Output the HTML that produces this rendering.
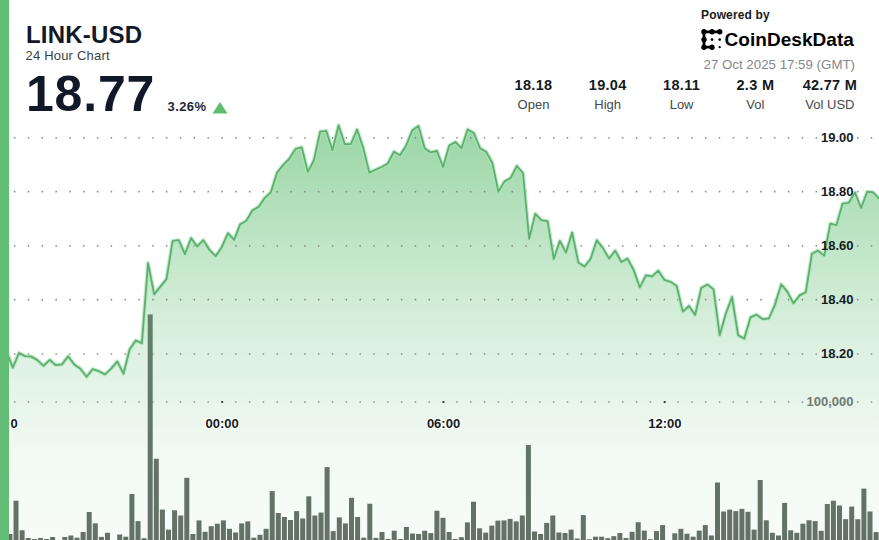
<!DOCTYPE html>
<html><head><meta charset="utf-8">
<style>
html,body{margin:0;padding:0;}
body{width:879px;height:540px;overflow:hidden;position:relative;background:#fff;font-family:"Liberation Sans",sans-serif;color:#111827;}
.abs{position:absolute;white-space:nowrap;line-height:1;}
#bar{position:absolute;left:0;top:0;width:9px;height:540px;background:#64bd75;}
svg{position:absolute;left:0;top:0;}
.ylab{font-family:"Liberation Sans",sans-serif;font-weight:700;font-size:13px;fill:#161c24;}
.xlab{font-family:"Liberation Sans",sans-serif;font-weight:700;font-size:13px;fill:#161c24;}
.stat{position:absolute;top:78.3px;width:74px;text-align:center;line-height:1;}
.stat .v{font-weight:700;font-size:14.5px;letter-spacing:0.3px;color:#141a22;display:block;height:16px;}
.stat .l{font-size:13px;color:#43474d;display:block;margin-top:4.2px;}
</style></head><body>
<svg width="879" height="540" viewBox="0 0 879 540">
<defs>
<linearGradient id="g" x1="0" y1="124" x2="0" y2="540" gradientUnits="userSpaceOnUse">
<stop offset="0" stop-color="#5cbd6e" stop-opacity="0.63"/>
<stop offset="0.375" stop-color="#5cbd6e" stop-opacity="0.32"/>
<stop offset="0.553" stop-color="#5cbd6e" stop-opacity="0.2"/>
<stop offset="0.8" stop-color="#5cbd6e" stop-opacity="0.08"/>
<stop offset="1" stop-color="#5cbd6e" stop-opacity="0.05"/>
</linearGradient>
</defs>
<g fill="#646d66"><rect x="1.30" y="536.00" width="5.0" height="9.00"/><rect x="7.40" y="534.00" width="5.0" height="11.00"/><rect x="13.50" y="500.70" width="5.0" height="44.30"/><rect x="19.60" y="530.30" width="5.0" height="14.70"/><rect x="25.70" y="538.00" width="5.0" height="7.00"/><rect x="31.80" y="539.00" width="5.0" height="6.00"/><rect x="37.90" y="538.00" width="5.0" height="7.00"/><rect x="44.00" y="539.00" width="5.0" height="6.00"/><rect x="50.10" y="537.00" width="5.0" height="8.00"/><rect x="56.20" y="540.00" width="5.0" height="5.00"/><rect x="62.30" y="537.00" width="5.0" height="8.00"/><rect x="68.40" y="535.50" width="5.0" height="9.50"/><rect x="74.50" y="537.70" width="5.0" height="7.30"/><rect x="80.60" y="532.00" width="5.0" height="13.00"/><rect x="86.70" y="512.00" width="5.0" height="33.00"/><rect x="92.80" y="523.30" width="5.0" height="21.70"/><rect x="98.90" y="536.90" width="5.0" height="8.10"/><rect x="105.00" y="532.80" width="5.0" height="12.20"/><rect x="111.10" y="540.00" width="5.0" height="5.00"/><rect x="117.20" y="534.50" width="5.0" height="10.50"/><rect x="123.30" y="536.70" width="5.0" height="8.30"/><rect x="129.40" y="494.00" width="5.0" height="51.00"/><rect x="135.50" y="521.10" width="5.0" height="23.90"/><rect x="141.60" y="538.20" width="5.0" height="6.80"/><rect x="147.70" y="314.40" width="5.0" height="230.60"/><rect x="153.80" y="458.75" width="5.0" height="86.25"/><rect x="159.90" y="509.60" width="5.0" height="35.40"/><rect x="166.00" y="529.60" width="5.0" height="15.40"/><rect x="172.10" y="510.30" width="5.0" height="34.70"/><rect x="178.20" y="515.50" width="5.0" height="29.50"/><rect x="184.30" y="477.80" width="5.0" height="67.20"/><rect x="190.40" y="534.00" width="5.0" height="11.00"/><rect x="196.50" y="520.40" width="5.0" height="24.60"/><rect x="202.60" y="531.80" width="5.0" height="13.20"/><rect x="208.70" y="526.20" width="5.0" height="18.80"/><rect x="214.80" y="523.70" width="5.0" height="21.30"/><rect x="220.90" y="520.40" width="5.0" height="24.60"/><rect x="227.00" y="528.80" width="5.0" height="16.20"/><rect x="233.10" y="532.50" width="5.0" height="12.50"/><rect x="239.20" y="523.40" width="5.0" height="21.60"/><rect x="245.30" y="521.40" width="5.0" height="23.60"/><rect x="251.40" y="537.70" width="5.0" height="7.30"/><rect x="257.50" y="534.80" width="5.0" height="10.20"/><rect x="263.60" y="528.80" width="5.0" height="16.20"/><rect x="269.70" y="491.10" width="5.0" height="53.90"/><rect x="275.80" y="513.00" width="5.0" height="32.00"/><rect x="281.90" y="517.00" width="5.0" height="28.00"/><rect x="288.00" y="520.00" width="5.0" height="25.00"/><rect x="294.10" y="511.10" width="5.0" height="33.90"/><rect x="300.20" y="518.50" width="5.0" height="26.50"/><rect x="306.30" y="496.30" width="5.0" height="48.70"/><rect x="312.40" y="515.50" width="5.0" height="29.50"/><rect x="318.50" y="512.60" width="5.0" height="32.40"/><rect x="324.60" y="467.10" width="5.0" height="77.90"/><rect x="330.70" y="531.10" width="5.0" height="13.90"/><rect x="336.80" y="517.40" width="5.0" height="27.60"/><rect x="342.90" y="523.40" width="5.0" height="21.60"/><rect x="349.00" y="497.80" width="5.0" height="47.20"/><rect x="355.10" y="517.00" width="5.0" height="28.00"/><rect x="361.20" y="537.70" width="5.0" height="7.30"/><rect x="367.30" y="503.70" width="5.0" height="41.30"/><rect x="373.40" y="537.90" width="5.0" height="7.10"/><rect x="379.50" y="532.00" width="5.0" height="13.00"/><rect x="385.60" y="539.00" width="5.0" height="6.00"/><rect x="391.70" y="530.70" width="5.0" height="14.30"/><rect x="397.80" y="539.00" width="5.0" height="6.00"/><rect x="403.90" y="527.00" width="5.0" height="18.00"/><rect x="410.00" y="533.50" width="5.0" height="11.50"/><rect x="416.10" y="534.00" width="5.0" height="11.00"/><rect x="422.20" y="530.70" width="5.0" height="14.30"/><rect x="428.30" y="533.10" width="5.0" height="11.90"/><rect x="434.40" y="510.70" width="5.0" height="34.30"/><rect x="440.50" y="517.80" width="5.0" height="27.20"/><rect x="446.60" y="532.00" width="5.0" height="13.00"/><rect x="452.70" y="539.00" width="5.0" height="6.00"/><rect x="458.80" y="537.20" width="5.0" height="7.80"/><rect x="464.90" y="522.40" width="5.0" height="22.60"/><rect x="471.00" y="501.70" width="5.0" height="43.30"/><rect x="477.10" y="528.30" width="5.0" height="16.70"/><rect x="483.20" y="532.60" width="5.0" height="12.40"/><rect x="489.30" y="525.60" width="5.0" height="19.40"/><rect x="495.40" y="520.60" width="5.0" height="24.40"/><rect x="501.50" y="520.40" width="5.0" height="24.60"/><rect x="507.60" y="518.90" width="5.0" height="26.10"/><rect x="513.70" y="521.40" width="5.0" height="23.60"/><rect x="519.80" y="515.50" width="5.0" height="29.50"/><rect x="525.90" y="445.00" width="5.0" height="100.00"/><rect x="532.00" y="531.50" width="5.0" height="13.50"/><rect x="538.10" y="534.00" width="5.0" height="11.00"/><rect x="544.20" y="522.90" width="5.0" height="22.10"/><rect x="550.30" y="515.50" width="5.0" height="29.50"/><rect x="556.40" y="532.50" width="5.0" height="12.50"/><rect x="562.50" y="533.00" width="5.0" height="12.00"/><rect x="568.60" y="529.60" width="5.0" height="15.40"/><rect x="574.70" y="538.50" width="5.0" height="6.50"/><rect x="580.80" y="515.10" width="5.0" height="29.90"/><rect x="586.90" y="539.20" width="5.0" height="5.80"/><rect x="593.00" y="536.70" width="5.0" height="8.30"/><rect x="599.10" y="536.70" width="5.0" height="8.30"/><rect x="605.20" y="538.20" width="5.0" height="6.80"/><rect x="611.30" y="536.20" width="5.0" height="8.80"/><rect x="617.40" y="533.00" width="5.0" height="12.00"/><rect x="623.50" y="538.00" width="5.0" height="7.00"/><rect x="629.60" y="531.80" width="5.0" height="13.20"/><rect x="635.70" y="522.20" width="5.0" height="22.80"/><rect x="641.80" y="530.60" width="5.0" height="14.40"/><rect x="647.90" y="539.20" width="5.0" height="5.80"/><rect x="654.00" y="531.10" width="5.0" height="13.90"/><rect x="660.10" y="525.10" width="5.0" height="19.90"/><rect x="666.20" y="540.00" width="5.0" height="5.00"/><rect x="672.30" y="533.30" width="5.0" height="11.70"/><rect x="678.40" y="528.80" width="5.0" height="16.20"/><rect x="684.50" y="533.70" width="5.0" height="11.30"/><rect x="690.60" y="536.70" width="5.0" height="8.30"/><rect x="696.70" y="530.60" width="5.0" height="14.40"/><rect x="702.80" y="525.10" width="5.0" height="19.90"/><rect x="708.90" y="535.50" width="5.0" height="9.50"/><rect x="715.00" y="482.50" width="5.0" height="62.50"/><rect x="721.10" y="511.50" width="5.0" height="33.50"/><rect x="727.20" y="509.60" width="5.0" height="35.40"/><rect x="733.30" y="511.10" width="5.0" height="33.90"/><rect x="739.40" y="508.90" width="5.0" height="36.10"/><rect x="745.50" y="511.80" width="5.0" height="33.20"/><rect x="751.60" y="529.60" width="5.0" height="15.40"/><rect x="757.70" y="480.00" width="5.0" height="65.00"/><rect x="763.80" y="520.30" width="5.0" height="24.70"/><rect x="769.90" y="532.80" width="5.0" height="12.20"/><rect x="776.00" y="535.50" width="5.0" height="9.50"/><rect x="782.10" y="502.90" width="5.0" height="42.10"/><rect x="788.20" y="530.30" width="5.0" height="14.70"/><rect x="794.30" y="532.80" width="5.0" height="12.20"/><rect x="800.40" y="523.70" width="5.0" height="21.30"/><rect x="806.50" y="520.30" width="5.0" height="24.70"/><rect x="812.60" y="521.10" width="5.0" height="23.90"/><rect x="818.70" y="530.80" width="5.0" height="14.20"/><rect x="824.80" y="504.00" width="5.0" height="41.00"/><rect x="830.90" y="500.70" width="5.0" height="44.30"/><rect x="837.00" y="505.50" width="5.0" height="39.50"/><rect x="843.10" y="519.20" width="5.0" height="25.80"/><rect x="849.20" y="506.60" width="5.0" height="38.40"/><rect x="855.30" y="519.20" width="5.0" height="25.80"/><rect x="861.40" y="488.60" width="5.0" height="56.40"/><rect x="867.50" y="511.50" width="5.0" height="33.50"/><rect x="873.60" y="532.10" width="5.0" height="12.90"/></g>
<path d="M0.51,560 L0.51,356.60 L6.65,351.60 L12.80,367.60 L18.95,353.00 L25.09,356.10 L31.24,356.60 L37.39,360.10 L43.53,365.80 L49.68,359.90 L55.83,365.10 L61.98,364.40 L68.12,356.20 L74.27,364.40 L80.42,368.70 L86.56,376.80 L92.71,369.10 L98.86,371.20 L105.00,374.40 L111.15,368.60 L117.30,361.40 L123.45,373.70 L129.59,349.50 L135.74,340.50 L141.89,343.10 L148.03,263.10 L154.18,294.35 L160.33,286.60 L166.48,279.10 L172.62,240.90 L178.77,240.20 L184.92,254.10 L191.06,238.10 L197.21,246.40 L203.36,240.20 L209.50,249.90 L215.65,256.20 L221.80,247.10 L227.95,233.20 L234.09,239.80 L240.24,224.20 L246.39,220.70 L252.53,210.30 L258.68,206.85 L264.83,197.80 L270.97,192.10 L277.12,172.60 L283.27,164.90 L289.42,158.60 L295.56,148.90 L301.71,147.30 L307.86,171.85 L314.00,160.00 L320.15,131.60 L326.30,130.90 L332.44,150.30 L338.59,125.30 L344.74,144.10 L350.89,144.10 L357.03,129.50 L363.18,147.60 L369.33,172.60 L375.47,169.80 L381.62,167.00 L387.77,163.50 L393.91,151.70 L400.06,155.20 L406.21,145.50 L412.36,130.20 L418.50,126.00 L424.65,148.20 L430.80,152.40 L436.94,151.00 L443.09,167.00 L449.24,145.50 L455.38,142.00 L461.53,148.20 L467.68,129.50 L473.83,133.00 L479.97,148.20 L486.12,151.70 L492.27,162.80 L498.41,191.60 L504.56,181.40 L510.71,177.90 L516.85,166.00 L523.00,173.00 L529.15,238.80 L535.29,213.80 L541.44,220.10 L547.59,221.10 L553.74,258.90 L559.88,240.90 L566.03,252.60 L572.18,232.60 L578.32,262.40 L584.47,266.60 L590.62,258.90 L596.76,240.20 L602.91,248.10 L609.06,258.60 L615.21,250.60 L621.35,262.00 L627.50,258.60 L633.65,270.00 L639.79,287.40 L645.94,275.30 L652.09,276.30 L658.24,270.70 L664.38,279.80 L670.53,281.80 L676.68,286.00 L682.82,311.60 L688.97,306.00 L695.12,315.00 L701.26,288.00 L707.41,284.50 L713.56,289.35 L719.70,335.20 L725.85,313.60 L732.00,297.00 L738.15,335.20 L744.29,338.60 L750.44,317.40 L756.59,314.60 L762.73,319.20 L768.88,318.50 L775.03,304.60 L781.17,284.40 L787.32,291.60 L793.47,303.40 L799.62,295.40 L805.76,292.30 L811.91,253.80 L818.06,250.60 L824.20,255.60 L830.35,223.60 L836.50,225.10 L842.64,203.60 L848.79,202.80 L854.94,192.50 L861.09,208.00 L867.23,191.70 L873.38,192.50 L879.53,199.10 L879.53,560 Z" fill="url(#g)"/>
<g fill="#828683"><circle cx="0.88" cy="137.80" r="0.85"/><circle cx="14.70" cy="137.80" r="0.85"/><circle cx="28.52" cy="137.80" r="0.85"/><circle cx="42.34" cy="137.80" r="0.85"/><circle cx="56.16" cy="137.80" r="0.85"/><circle cx="69.98" cy="137.80" r="0.85"/><circle cx="83.80" cy="137.80" r="0.85"/><circle cx="97.62" cy="137.80" r="0.85"/><circle cx="111.44" cy="137.80" r="0.85"/><circle cx="125.26" cy="137.80" r="0.85"/><circle cx="139.08" cy="137.80" r="0.85"/><circle cx="152.90" cy="137.80" r="0.85"/><circle cx="166.72" cy="137.80" r="0.85"/><circle cx="180.54" cy="137.80" r="0.85"/><circle cx="194.36" cy="137.80" r="0.85"/><circle cx="208.18" cy="137.80" r="0.85"/><circle cx="222.00" cy="137.80" r="0.85"/><circle cx="235.82" cy="137.80" r="0.85"/><circle cx="249.64" cy="137.80" r="0.85"/><circle cx="263.46" cy="137.80" r="0.85"/><circle cx="277.28" cy="137.80" r="0.85"/><circle cx="291.10" cy="137.80" r="0.85"/><circle cx="304.92" cy="137.80" r="0.85"/><circle cx="318.74" cy="137.80" r="0.85"/><circle cx="332.56" cy="137.80" r="0.85"/><circle cx="346.38" cy="137.80" r="0.85"/><circle cx="360.20" cy="137.80" r="0.85"/><circle cx="374.02" cy="137.80" r="0.85"/><circle cx="387.84" cy="137.80" r="0.85"/><circle cx="401.66" cy="137.80" r="0.85"/><circle cx="415.48" cy="137.80" r="0.85"/><circle cx="429.30" cy="137.80" r="0.85"/><circle cx="443.12" cy="137.80" r="0.85"/><circle cx="456.94" cy="137.80" r="0.85"/><circle cx="470.76" cy="137.80" r="0.85"/><circle cx="484.58" cy="137.80" r="0.85"/><circle cx="498.40" cy="137.80" r="0.85"/><circle cx="512.22" cy="137.80" r="0.85"/><circle cx="526.04" cy="137.80" r="0.85"/><circle cx="539.86" cy="137.80" r="0.85"/><circle cx="553.68" cy="137.80" r="0.85"/><circle cx="567.50" cy="137.80" r="0.85"/><circle cx="581.32" cy="137.80" r="0.85"/><circle cx="595.14" cy="137.80" r="0.85"/><circle cx="608.96" cy="137.80" r="0.85"/><circle cx="622.78" cy="137.80" r="0.85"/><circle cx="636.60" cy="137.80" r="0.85"/><circle cx="650.42" cy="137.80" r="0.85"/><circle cx="664.24" cy="137.80" r="0.85"/><circle cx="678.06" cy="137.80" r="0.85"/><circle cx="691.88" cy="137.80" r="0.85"/><circle cx="705.70" cy="137.80" r="0.85"/><circle cx="719.52" cy="137.80" r="0.85"/><circle cx="733.34" cy="137.80" r="0.85"/><circle cx="747.16" cy="137.80" r="0.85"/><circle cx="760.98" cy="137.80" r="0.85"/><circle cx="774.80" cy="137.80" r="0.85"/><circle cx="788.62" cy="137.80" r="0.85"/><circle cx="802.44" cy="137.80" r="0.85"/><circle cx="816.26" cy="137.80" r="0.85"/><circle cx="830.08" cy="137.80" r="0.85"/><circle cx="843.90" cy="137.80" r="0.85"/><circle cx="857.72" cy="137.80" r="0.85"/><circle cx="871.54" cy="137.80" r="0.85"/><circle cx="0.88" cy="191.70" r="0.85"/><circle cx="14.70" cy="191.70" r="0.85"/><circle cx="28.52" cy="191.70" r="0.85"/><circle cx="42.34" cy="191.70" r="0.85"/><circle cx="56.16" cy="191.70" r="0.85"/><circle cx="69.98" cy="191.70" r="0.85"/><circle cx="83.80" cy="191.70" r="0.85"/><circle cx="97.62" cy="191.70" r="0.85"/><circle cx="111.44" cy="191.70" r="0.85"/><circle cx="125.26" cy="191.70" r="0.85"/><circle cx="139.08" cy="191.70" r="0.85"/><circle cx="152.90" cy="191.70" r="0.85"/><circle cx="166.72" cy="191.70" r="0.85"/><circle cx="180.54" cy="191.70" r="0.85"/><circle cx="194.36" cy="191.70" r="0.85"/><circle cx="208.18" cy="191.70" r="0.85"/><circle cx="222.00" cy="191.70" r="0.85"/><circle cx="235.82" cy="191.70" r="0.85"/><circle cx="249.64" cy="191.70" r="0.85"/><circle cx="263.46" cy="191.70" r="0.85"/><circle cx="277.28" cy="191.70" r="0.85"/><circle cx="291.10" cy="191.70" r="0.85"/><circle cx="304.92" cy="191.70" r="0.85"/><circle cx="318.74" cy="191.70" r="0.85"/><circle cx="332.56" cy="191.70" r="0.85"/><circle cx="346.38" cy="191.70" r="0.85"/><circle cx="360.20" cy="191.70" r="0.85"/><circle cx="374.02" cy="191.70" r="0.85"/><circle cx="387.84" cy="191.70" r="0.85"/><circle cx="401.66" cy="191.70" r="0.85"/><circle cx="415.48" cy="191.70" r="0.85"/><circle cx="429.30" cy="191.70" r="0.85"/><circle cx="443.12" cy="191.70" r="0.85"/><circle cx="456.94" cy="191.70" r="0.85"/><circle cx="470.76" cy="191.70" r="0.85"/><circle cx="484.58" cy="191.70" r="0.85"/><circle cx="498.40" cy="191.70" r="0.85"/><circle cx="512.22" cy="191.70" r="0.85"/><circle cx="526.04" cy="191.70" r="0.85"/><circle cx="539.86" cy="191.70" r="0.85"/><circle cx="553.68" cy="191.70" r="0.85"/><circle cx="567.50" cy="191.70" r="0.85"/><circle cx="581.32" cy="191.70" r="0.85"/><circle cx="595.14" cy="191.70" r="0.85"/><circle cx="608.96" cy="191.70" r="0.85"/><circle cx="622.78" cy="191.70" r="0.85"/><circle cx="636.60" cy="191.70" r="0.85"/><circle cx="650.42" cy="191.70" r="0.85"/><circle cx="664.24" cy="191.70" r="0.85"/><circle cx="678.06" cy="191.70" r="0.85"/><circle cx="691.88" cy="191.70" r="0.85"/><circle cx="705.70" cy="191.70" r="0.85"/><circle cx="719.52" cy="191.70" r="0.85"/><circle cx="733.34" cy="191.70" r="0.85"/><circle cx="747.16" cy="191.70" r="0.85"/><circle cx="760.98" cy="191.70" r="0.85"/><circle cx="774.80" cy="191.70" r="0.85"/><circle cx="788.62" cy="191.70" r="0.85"/><circle cx="802.44" cy="191.70" r="0.85"/><circle cx="816.26" cy="191.70" r="0.85"/><circle cx="830.08" cy="191.70" r="0.85"/><circle cx="843.90" cy="191.70" r="0.85"/><circle cx="857.72" cy="191.70" r="0.85"/><circle cx="871.54" cy="191.70" r="0.85"/><circle cx="0.88" cy="245.80" r="0.85"/><circle cx="14.70" cy="245.80" r="0.85"/><circle cx="28.52" cy="245.80" r="0.85"/><circle cx="42.34" cy="245.80" r="0.85"/><circle cx="56.16" cy="245.80" r="0.85"/><circle cx="69.98" cy="245.80" r="0.85"/><circle cx="83.80" cy="245.80" r="0.85"/><circle cx="97.62" cy="245.80" r="0.85"/><circle cx="111.44" cy="245.80" r="0.85"/><circle cx="125.26" cy="245.80" r="0.85"/><circle cx="139.08" cy="245.80" r="0.85"/><circle cx="152.90" cy="245.80" r="0.85"/><circle cx="166.72" cy="245.80" r="0.85"/><circle cx="180.54" cy="245.80" r="0.85"/><circle cx="194.36" cy="245.80" r="0.85"/><circle cx="208.18" cy="245.80" r="0.85"/><circle cx="222.00" cy="245.80" r="0.85"/><circle cx="235.82" cy="245.80" r="0.85"/><circle cx="249.64" cy="245.80" r="0.85"/><circle cx="263.46" cy="245.80" r="0.85"/><circle cx="277.28" cy="245.80" r="0.85"/><circle cx="291.10" cy="245.80" r="0.85"/><circle cx="304.92" cy="245.80" r="0.85"/><circle cx="318.74" cy="245.80" r="0.85"/><circle cx="332.56" cy="245.80" r="0.85"/><circle cx="346.38" cy="245.80" r="0.85"/><circle cx="360.20" cy="245.80" r="0.85"/><circle cx="374.02" cy="245.80" r="0.85"/><circle cx="387.84" cy="245.80" r="0.85"/><circle cx="401.66" cy="245.80" r="0.85"/><circle cx="415.48" cy="245.80" r="0.85"/><circle cx="429.30" cy="245.80" r="0.85"/><circle cx="443.12" cy="245.80" r="0.85"/><circle cx="456.94" cy="245.80" r="0.85"/><circle cx="470.76" cy="245.80" r="0.85"/><circle cx="484.58" cy="245.80" r="0.85"/><circle cx="498.40" cy="245.80" r="0.85"/><circle cx="512.22" cy="245.80" r="0.85"/><circle cx="526.04" cy="245.80" r="0.85"/><circle cx="539.86" cy="245.80" r="0.85"/><circle cx="553.68" cy="245.80" r="0.85"/><circle cx="567.50" cy="245.80" r="0.85"/><circle cx="581.32" cy="245.80" r="0.85"/><circle cx="595.14" cy="245.80" r="0.85"/><circle cx="608.96" cy="245.80" r="0.85"/><circle cx="622.78" cy="245.80" r="0.85"/><circle cx="636.60" cy="245.80" r="0.85"/><circle cx="650.42" cy="245.80" r="0.85"/><circle cx="664.24" cy="245.80" r="0.85"/><circle cx="678.06" cy="245.80" r="0.85"/><circle cx="691.88" cy="245.80" r="0.85"/><circle cx="705.70" cy="245.80" r="0.85"/><circle cx="719.52" cy="245.80" r="0.85"/><circle cx="733.34" cy="245.80" r="0.85"/><circle cx="747.16" cy="245.80" r="0.85"/><circle cx="760.98" cy="245.80" r="0.85"/><circle cx="774.80" cy="245.80" r="0.85"/><circle cx="788.62" cy="245.80" r="0.85"/><circle cx="802.44" cy="245.80" r="0.85"/><circle cx="816.26" cy="245.80" r="0.85"/><circle cx="830.08" cy="245.80" r="0.85"/><circle cx="843.90" cy="245.80" r="0.85"/><circle cx="857.72" cy="245.80" r="0.85"/><circle cx="871.54" cy="245.80" r="0.85"/><circle cx="0.88" cy="299.70" r="0.85"/><circle cx="14.70" cy="299.70" r="0.85"/><circle cx="28.52" cy="299.70" r="0.85"/><circle cx="42.34" cy="299.70" r="0.85"/><circle cx="56.16" cy="299.70" r="0.85"/><circle cx="69.98" cy="299.70" r="0.85"/><circle cx="83.80" cy="299.70" r="0.85"/><circle cx="97.62" cy="299.70" r="0.85"/><circle cx="111.44" cy="299.70" r="0.85"/><circle cx="125.26" cy="299.70" r="0.85"/><circle cx="139.08" cy="299.70" r="0.85"/><circle cx="152.90" cy="299.70" r="0.85"/><circle cx="166.72" cy="299.70" r="0.85"/><circle cx="180.54" cy="299.70" r="0.85"/><circle cx="194.36" cy="299.70" r="0.85"/><circle cx="208.18" cy="299.70" r="0.85"/><circle cx="222.00" cy="299.70" r="0.85"/><circle cx="235.82" cy="299.70" r="0.85"/><circle cx="249.64" cy="299.70" r="0.85"/><circle cx="263.46" cy="299.70" r="0.85"/><circle cx="277.28" cy="299.70" r="0.85"/><circle cx="291.10" cy="299.70" r="0.85"/><circle cx="304.92" cy="299.70" r="0.85"/><circle cx="318.74" cy="299.70" r="0.85"/><circle cx="332.56" cy="299.70" r="0.85"/><circle cx="346.38" cy="299.70" r="0.85"/><circle cx="360.20" cy="299.70" r="0.85"/><circle cx="374.02" cy="299.70" r="0.85"/><circle cx="387.84" cy="299.70" r="0.85"/><circle cx="401.66" cy="299.70" r="0.85"/><circle cx="415.48" cy="299.70" r="0.85"/><circle cx="429.30" cy="299.70" r="0.85"/><circle cx="443.12" cy="299.70" r="0.85"/><circle cx="456.94" cy="299.70" r="0.85"/><circle cx="470.76" cy="299.70" r="0.85"/><circle cx="484.58" cy="299.70" r="0.85"/><circle cx="498.40" cy="299.70" r="0.85"/><circle cx="512.22" cy="299.70" r="0.85"/><circle cx="526.04" cy="299.70" r="0.85"/><circle cx="539.86" cy="299.70" r="0.85"/><circle cx="553.68" cy="299.70" r="0.85"/><circle cx="567.50" cy="299.70" r="0.85"/><circle cx="581.32" cy="299.70" r="0.85"/><circle cx="595.14" cy="299.70" r="0.85"/><circle cx="608.96" cy="299.70" r="0.85"/><circle cx="622.78" cy="299.70" r="0.85"/><circle cx="636.60" cy="299.70" r="0.85"/><circle cx="650.42" cy="299.70" r="0.85"/><circle cx="664.24" cy="299.70" r="0.85"/><circle cx="678.06" cy="299.70" r="0.85"/><circle cx="691.88" cy="299.70" r="0.85"/><circle cx="705.70" cy="299.70" r="0.85"/><circle cx="719.52" cy="299.70" r="0.85"/><circle cx="733.34" cy="299.70" r="0.85"/><circle cx="747.16" cy="299.70" r="0.85"/><circle cx="760.98" cy="299.70" r="0.85"/><circle cx="774.80" cy="299.70" r="0.85"/><circle cx="788.62" cy="299.70" r="0.85"/><circle cx="802.44" cy="299.70" r="0.85"/><circle cx="816.26" cy="299.70" r="0.85"/><circle cx="830.08" cy="299.70" r="0.85"/><circle cx="843.90" cy="299.70" r="0.85"/><circle cx="857.72" cy="299.70" r="0.85"/><circle cx="871.54" cy="299.70" r="0.85"/><circle cx="0.88" cy="354.00" r="0.85"/><circle cx="14.70" cy="354.00" r="0.85"/><circle cx="28.52" cy="354.00" r="0.85"/><circle cx="42.34" cy="354.00" r="0.85"/><circle cx="56.16" cy="354.00" r="0.85"/><circle cx="69.98" cy="354.00" r="0.85"/><circle cx="83.80" cy="354.00" r="0.85"/><circle cx="97.62" cy="354.00" r="0.85"/><circle cx="111.44" cy="354.00" r="0.85"/><circle cx="125.26" cy="354.00" r="0.85"/><circle cx="139.08" cy="354.00" r="0.85"/><circle cx="152.90" cy="354.00" r="0.85"/><circle cx="166.72" cy="354.00" r="0.85"/><circle cx="180.54" cy="354.00" r="0.85"/><circle cx="194.36" cy="354.00" r="0.85"/><circle cx="208.18" cy="354.00" r="0.85"/><circle cx="222.00" cy="354.00" r="0.85"/><circle cx="235.82" cy="354.00" r="0.85"/><circle cx="249.64" cy="354.00" r="0.85"/><circle cx="263.46" cy="354.00" r="0.85"/><circle cx="277.28" cy="354.00" r="0.85"/><circle cx="291.10" cy="354.00" r="0.85"/><circle cx="304.92" cy="354.00" r="0.85"/><circle cx="318.74" cy="354.00" r="0.85"/><circle cx="332.56" cy="354.00" r="0.85"/><circle cx="346.38" cy="354.00" r="0.85"/><circle cx="360.20" cy="354.00" r="0.85"/><circle cx="374.02" cy="354.00" r="0.85"/><circle cx="387.84" cy="354.00" r="0.85"/><circle cx="401.66" cy="354.00" r="0.85"/><circle cx="415.48" cy="354.00" r="0.85"/><circle cx="429.30" cy="354.00" r="0.85"/><circle cx="443.12" cy="354.00" r="0.85"/><circle cx="456.94" cy="354.00" r="0.85"/><circle cx="470.76" cy="354.00" r="0.85"/><circle cx="484.58" cy="354.00" r="0.85"/><circle cx="498.40" cy="354.00" r="0.85"/><circle cx="512.22" cy="354.00" r="0.85"/><circle cx="526.04" cy="354.00" r="0.85"/><circle cx="539.86" cy="354.00" r="0.85"/><circle cx="553.68" cy="354.00" r="0.85"/><circle cx="567.50" cy="354.00" r="0.85"/><circle cx="581.32" cy="354.00" r="0.85"/><circle cx="595.14" cy="354.00" r="0.85"/><circle cx="608.96" cy="354.00" r="0.85"/><circle cx="622.78" cy="354.00" r="0.85"/><circle cx="636.60" cy="354.00" r="0.85"/><circle cx="650.42" cy="354.00" r="0.85"/><circle cx="664.24" cy="354.00" r="0.85"/><circle cx="678.06" cy="354.00" r="0.85"/><circle cx="691.88" cy="354.00" r="0.85"/><circle cx="705.70" cy="354.00" r="0.85"/><circle cx="719.52" cy="354.00" r="0.85"/><circle cx="733.34" cy="354.00" r="0.85"/><circle cx="747.16" cy="354.00" r="0.85"/><circle cx="760.98" cy="354.00" r="0.85"/><circle cx="774.80" cy="354.00" r="0.85"/><circle cx="788.62" cy="354.00" r="0.85"/><circle cx="802.44" cy="354.00" r="0.85"/><circle cx="816.26" cy="354.00" r="0.85"/><circle cx="830.08" cy="354.00" r="0.85"/><circle cx="843.90" cy="354.00" r="0.85"/><circle cx="857.72" cy="354.00" r="0.85"/><circle cx="871.54" cy="354.00" r="0.85"/><circle cx="0.88" cy="402.00" r="0.85"/><circle cx="14.70" cy="402.00" r="0.85"/><circle cx="28.52" cy="402.00" r="0.85"/><circle cx="42.34" cy="402.00" r="0.85"/><circle cx="56.16" cy="402.00" r="0.85"/><circle cx="69.98" cy="402.00" r="0.85"/><circle cx="83.80" cy="402.00" r="0.85"/><circle cx="97.62" cy="402.00" r="0.85"/><circle cx="111.44" cy="402.00" r="0.85"/><circle cx="125.26" cy="402.00" r="0.85"/><circle cx="139.08" cy="402.00" r="0.85"/><circle cx="152.90" cy="402.00" r="0.85"/><circle cx="166.72" cy="402.00" r="0.85"/><circle cx="180.54" cy="402.00" r="0.85"/><circle cx="194.36" cy="402.00" r="0.85"/><circle cx="208.18" cy="402.00" r="0.85"/><circle cx="222.00" cy="402.00" r="0.85"/><circle cx="235.82" cy="402.00" r="0.85"/><circle cx="249.64" cy="402.00" r="0.85"/><circle cx="263.46" cy="402.00" r="0.85"/><circle cx="277.28" cy="402.00" r="0.85"/><circle cx="291.10" cy="402.00" r="0.85"/><circle cx="304.92" cy="402.00" r="0.85"/><circle cx="318.74" cy="402.00" r="0.85"/><circle cx="332.56" cy="402.00" r="0.85"/><circle cx="346.38" cy="402.00" r="0.85"/><circle cx="360.20" cy="402.00" r="0.85"/><circle cx="374.02" cy="402.00" r="0.85"/><circle cx="387.84" cy="402.00" r="0.85"/><circle cx="401.66" cy="402.00" r="0.85"/><circle cx="415.48" cy="402.00" r="0.85"/><circle cx="429.30" cy="402.00" r="0.85"/><circle cx="443.12" cy="402.00" r="0.85"/><circle cx="456.94" cy="402.00" r="0.85"/><circle cx="470.76" cy="402.00" r="0.85"/><circle cx="484.58" cy="402.00" r="0.85"/><circle cx="498.40" cy="402.00" r="0.85"/><circle cx="512.22" cy="402.00" r="0.85"/><circle cx="526.04" cy="402.00" r="0.85"/><circle cx="539.86" cy="402.00" r="0.85"/><circle cx="553.68" cy="402.00" r="0.85"/><circle cx="567.50" cy="402.00" r="0.85"/><circle cx="581.32" cy="402.00" r="0.85"/><circle cx="595.14" cy="402.00" r="0.85"/><circle cx="608.96" cy="402.00" r="0.85"/><circle cx="622.78" cy="402.00" r="0.85"/><circle cx="636.60" cy="402.00" r="0.85"/><circle cx="650.42" cy="402.00" r="0.85"/><circle cx="664.24" cy="402.00" r="0.85"/><circle cx="678.06" cy="402.00" r="0.85"/><circle cx="691.88" cy="402.00" r="0.85"/><circle cx="705.70" cy="402.00" r="0.85"/><circle cx="719.52" cy="402.00" r="0.85"/><circle cx="733.34" cy="402.00" r="0.85"/><circle cx="747.16" cy="402.00" r="0.85"/><circle cx="760.98" cy="402.00" r="0.85"/><circle cx="774.80" cy="402.00" r="0.85"/><circle cx="788.62" cy="402.00" r="0.85"/><circle cx="802.44" cy="402.00" r="0.85"/><circle cx="816.26" cy="402.00" r="0.85"/><circle cx="830.08" cy="402.00" r="0.85"/><circle cx="843.90" cy="402.00" r="0.85"/><circle cx="857.72" cy="402.00" r="0.85"/><circle cx="871.54" cy="402.00" r="0.85"/></g>
<g fill="#2a2f33"><circle cx="222.2" cy="402" r="1.1"/><circle cx="443.5" cy="402" r="1.1"/><circle cx="664.8" cy="402" r="1.1"/></g>
<polyline points="0.51,356.60 6.65,351.60 12.80,367.60 18.95,353.00 25.09,356.10 31.24,356.60 37.39,360.10 43.53,365.80 49.68,359.90 55.83,365.10 61.98,364.40 68.12,356.20 74.27,364.40 80.42,368.70 86.56,376.80 92.71,369.10 98.86,371.20 105.00,374.40 111.15,368.60 117.30,361.40 123.45,373.70 129.59,349.50 135.74,340.50 141.89,343.10 148.03,263.10 154.18,294.35 160.33,286.60 166.48,279.10 172.62,240.90 178.77,240.20 184.92,254.10 191.06,238.10 197.21,246.40 203.36,240.20 209.50,249.90 215.65,256.20 221.80,247.10 227.95,233.20 234.09,239.80 240.24,224.20 246.39,220.70 252.53,210.30 258.68,206.85 264.83,197.80 270.97,192.10 277.12,172.60 283.27,164.90 289.42,158.60 295.56,148.90 301.71,147.30 307.86,171.85 314.00,160.00 320.15,131.60 326.30,130.90 332.44,150.30 338.59,125.30 344.74,144.10 350.89,144.10 357.03,129.50 363.18,147.60 369.33,172.60 375.47,169.80 381.62,167.00 387.77,163.50 393.91,151.70 400.06,155.20 406.21,145.50 412.36,130.20 418.50,126.00 424.65,148.20 430.80,152.40 436.94,151.00 443.09,167.00 449.24,145.50 455.38,142.00 461.53,148.20 467.68,129.50 473.83,133.00 479.97,148.20 486.12,151.70 492.27,162.80 498.41,191.60 504.56,181.40 510.71,177.90 516.85,166.00 523.00,173.00 529.15,238.80 535.29,213.80 541.44,220.10 547.59,221.10 553.74,258.90 559.88,240.90 566.03,252.60 572.18,232.60 578.32,262.40 584.47,266.60 590.62,258.90 596.76,240.20 602.91,248.10 609.06,258.60 615.21,250.60 621.35,262.00 627.50,258.60 633.65,270.00 639.79,287.40 645.94,275.30 652.09,276.30 658.24,270.70 664.38,279.80 670.53,281.80 676.68,286.00 682.82,311.60 688.97,306.00 695.12,315.00 701.26,288.00 707.41,284.50 713.56,289.35 719.70,335.20 725.85,313.60 732.00,297.00 738.15,335.20 744.29,338.60 750.44,317.40 756.59,314.60 762.73,319.20 768.88,318.50 775.03,304.60 781.17,284.40 787.32,291.60 793.47,303.40 799.62,295.40 805.76,292.30 811.91,253.80 818.06,250.60 824.20,255.60 830.35,223.60 836.50,225.10 842.64,203.60 848.79,202.80 854.94,192.50 861.09,208.00 867.23,191.70 873.38,192.50 879.53,199.10" fill="none" stroke="#a6e8b2" stroke-opacity="0.75" stroke-width="4" stroke-linejoin="round"/>
<polyline points="0.51,356.60 6.65,351.60 12.80,367.60 18.95,353.00 25.09,356.10 31.24,356.60 37.39,360.10 43.53,365.80 49.68,359.90 55.83,365.10 61.98,364.40 68.12,356.20 74.27,364.40 80.42,368.70 86.56,376.80 92.71,369.10 98.86,371.20 105.00,374.40 111.15,368.60 117.30,361.40 123.45,373.70 129.59,349.50 135.74,340.50 141.89,343.10 148.03,263.10 154.18,294.35 160.33,286.60 166.48,279.10 172.62,240.90 178.77,240.20 184.92,254.10 191.06,238.10 197.21,246.40 203.36,240.20 209.50,249.90 215.65,256.20 221.80,247.10 227.95,233.20 234.09,239.80 240.24,224.20 246.39,220.70 252.53,210.30 258.68,206.85 264.83,197.80 270.97,192.10 277.12,172.60 283.27,164.90 289.42,158.60 295.56,148.90 301.71,147.30 307.86,171.85 314.00,160.00 320.15,131.60 326.30,130.90 332.44,150.30 338.59,125.30 344.74,144.10 350.89,144.10 357.03,129.50 363.18,147.60 369.33,172.60 375.47,169.80 381.62,167.00 387.77,163.50 393.91,151.70 400.06,155.20 406.21,145.50 412.36,130.20 418.50,126.00 424.65,148.20 430.80,152.40 436.94,151.00 443.09,167.00 449.24,145.50 455.38,142.00 461.53,148.20 467.68,129.50 473.83,133.00 479.97,148.20 486.12,151.70 492.27,162.80 498.41,191.60 504.56,181.40 510.71,177.90 516.85,166.00 523.00,173.00 529.15,238.80 535.29,213.80 541.44,220.10 547.59,221.10 553.74,258.90 559.88,240.90 566.03,252.60 572.18,232.60 578.32,262.40 584.47,266.60 590.62,258.90 596.76,240.20 602.91,248.10 609.06,258.60 615.21,250.60 621.35,262.00 627.50,258.60 633.65,270.00 639.79,287.40 645.94,275.30 652.09,276.30 658.24,270.70 664.38,279.80 670.53,281.80 676.68,286.00 682.82,311.60 688.97,306.00 695.12,315.00 701.26,288.00 707.41,284.50 713.56,289.35 719.70,335.20 725.85,313.60 732.00,297.00 738.15,335.20 744.29,338.60 750.44,317.40 756.59,314.60 762.73,319.20 768.88,318.50 775.03,304.60 781.17,284.40 787.32,291.60 793.47,303.40 799.62,295.40 805.76,292.30 811.91,253.80 818.06,250.60 824.20,255.60 830.35,223.60 836.50,225.10 842.64,203.60 848.79,202.80 854.94,192.50 861.09,208.00 867.23,191.70 873.38,192.50 879.53,199.10" fill="none" stroke="#62ac74" stroke-width="1.8" stroke-linejoin="round"/>
<g class="ylab" text-anchor="end" style="paint-order:stroke" stroke="#fff" stroke-width="0">
<text x="853.5" y="141.9">19.00</text>
<text x="853.5" y="195.8">18.80</text>
<text x="853.5" y="249.9">18.60</text>
<text x="853.5" y="303.8">18.40</text>
<text x="853.5" y="358.1">18.20</text>
<text x="853.5" y="406.1" fill="#6f7a72">100,000</text>
</g>
<g class="xlab" text-anchor="middle" style="paint-order:stroke" stroke="#fff" stroke-opacity="0.6" stroke-width="3" stroke-linejoin="round">
<text x="14.2" y="428.4">0</text>
<text x="222.2" y="428.4">00:00</text>
<text x="443.5" y="428.4">06:00</text>
<text x="664.8" y="428.4">12:00</text>
</g>
</svg>
<div id="bar"></div>
<div class="abs" style="left:26px;top:23px;font-size:24px;font-weight:700;letter-spacing:0.2px;color:#111827">LINK-USD</div>
<div class="abs" style="left:25.5px;top:48.7px;font-size:13px;color:#3a3f45;letter-spacing:0.2px">24 Hour Chart</div>
<div class="abs" style="left:26px;top:68.8px;font-size:50px;font-weight:700;letter-spacing:0.8px;color:#111827">18.77</div>
<div class="abs" style="left:167.5px;top:100px;font-size:13px;font-weight:700;letter-spacing:0.4px;color:#1f2937">3.26%</div>
<svg style="left:212px;top:101px" width="17" height="13"><polygon points="0.5,12.5 8,1 15.5,12.5" fill="#5cbd6e"/></svg>
<div class="abs" style="left:701px;top:9px;font-size:12px;font-weight:700;letter-spacing:0.15px;color:#1a1a1a">Powered by</div>
<svg style="left:698px;top:26px" width="30" height="26" viewBox="698 26 30 26">
<g fill="#000">
<path d="M704 47.2 L704 31.8 L719.7 31.8 M704 47.2 L712 47.2" fill="none" stroke="#000" stroke-width="2.8"/>
<circle cx="704" cy="31.8" r="2.7"/><circle cx="712" cy="31.8" r="2.7"/><circle cx="719.7" cy="31.8" r="2.7"/>
<circle cx="704" cy="39.6" r="2.7"/><circle cx="704" cy="47.2" r="2.7"/><circle cx="712" cy="47.2" r="2.7"/>
<circle cx="712" cy="39.6" r="1.3"/><circle cx="719.7" cy="39.6" r="1.3"/><circle cx="719.7" cy="47.2" r="1.15"/>
</g></svg>
<div class="abs" style="left:724.5px;top:30px;font-size:19px;font-weight:700;letter-spacing:0.05px;color:#000">CoinDeskData</div>
<div class="abs" style="left:703.5px;top:58px;font-size:13.3px;color:#85888b">27 Oct 2025 17:59 (GMT)</div>
<div class="stat" style="left:496.5px"><span class="v">18.18</span><span class="l">Open</span></div>
<div class="stat" style="left:570.7px"><span class="v">19.04</span><span class="l">High</span></div>
<div class="stat" style="left:644.6px"><span class="v">18.11</span><span class="l">Low</span></div>
<div class="stat" style="left:718.4px"><span class="v">2.3 M</span><span class="l">Vol</span></div>
<div class="stat" style="left:792.9px"><span class="v">42.77 M</span><span class="l">Vol USD</span></div>
</body></html>
